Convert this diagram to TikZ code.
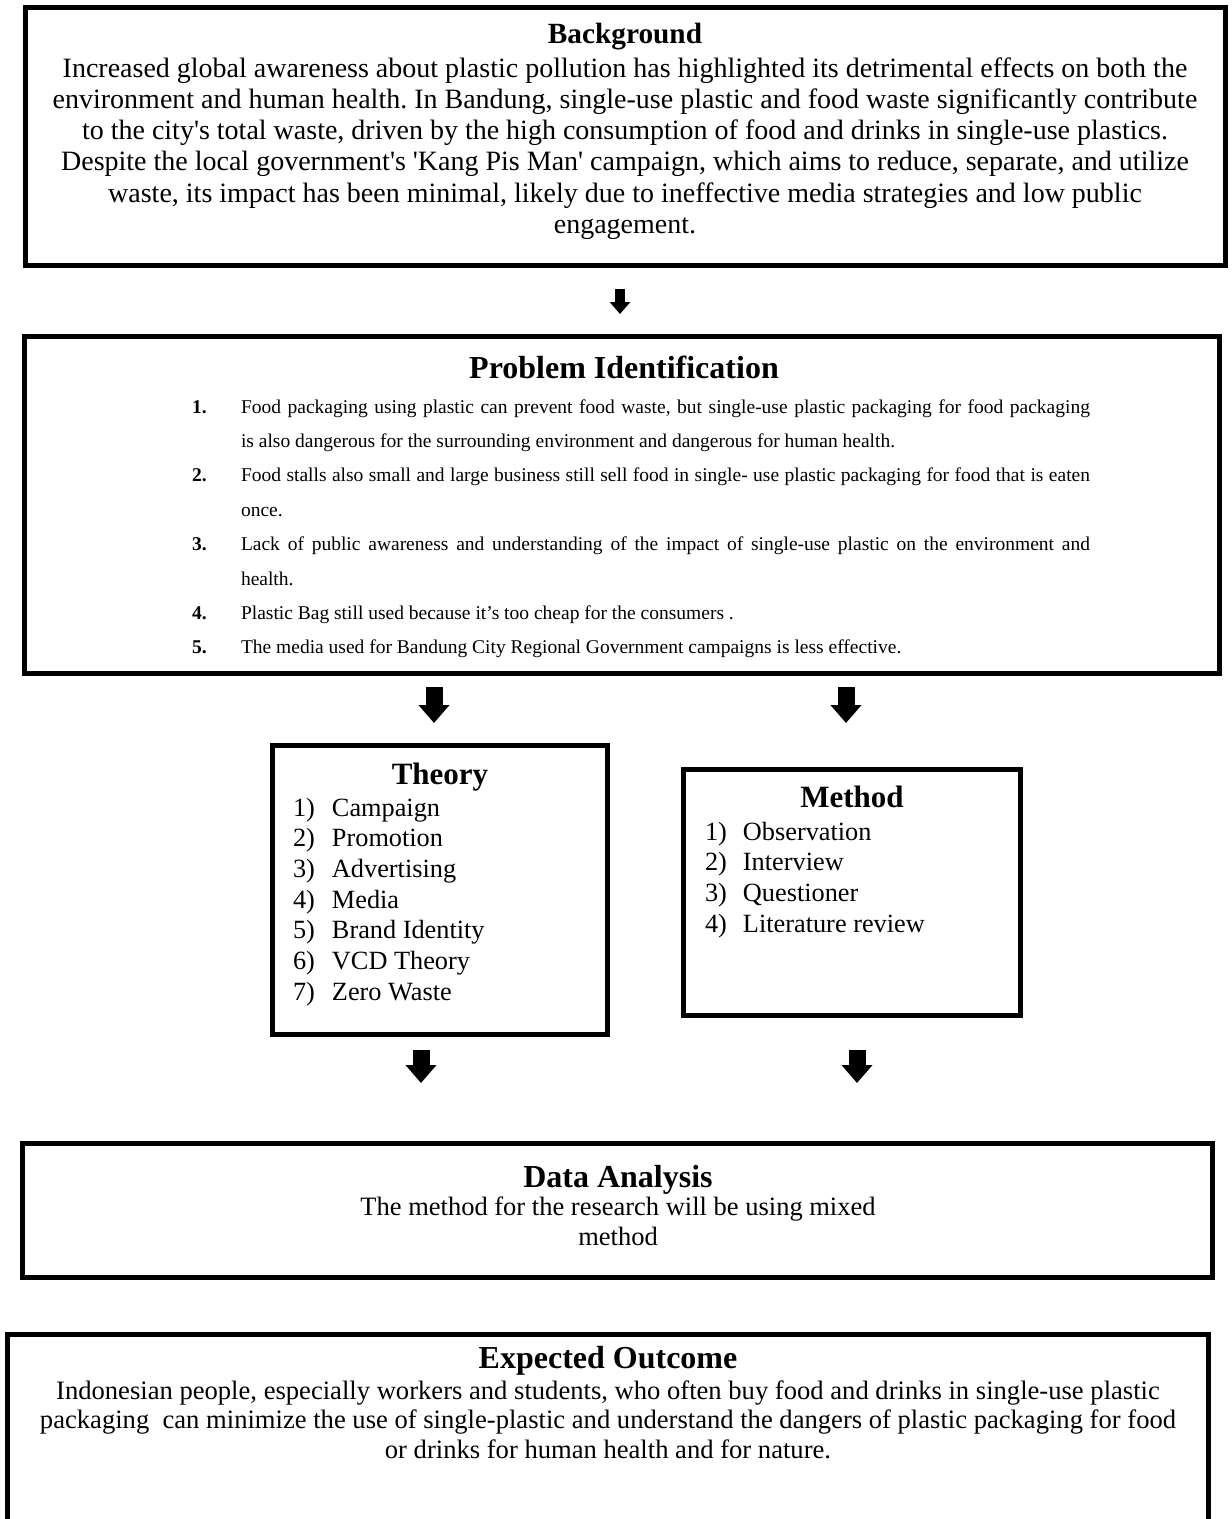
\documentclass[tikz,border=0pt]{standalone}
\usepackage{fontspec}
\setmainfont{Liberation Serif}
\newfontfamily\plainq{Liberation Serif}
\usetikzlibrary{arrows.meta}
\newcommand{\sq}{{\plainq'}}
\newcommand{\jl}[1]{\makebox[849pt][s]{#1}}
\frenchspacing
\begin{document}
\begin{tikzpicture}[x=1pt,y=-1pt,
  frame/.style={draw=black, line width=5pt, inner sep=0pt, outer sep=0pt, fill=none},
  txt/.style={inner sep=0pt, outer sep=0pt, anchor=base},
  lst/.style={inner sep=0pt, outer sep=0pt, anchor=base west},
  bigtitle/.style={font=\fontsize{31}{36}\selectfont\bfseries},
  widetitle/.style={font=\fontsize{32}{36}\selectfont\bfseries},
  bigarrow/.style={draw=black, line width=17pt, -{Triangle[width=30pt,length=18pt]}},
  smallarrow/.style={draw=black, line width=10pt, -{Triangle[width=20pt,length=12pt]}}]
\useasboundingbox (0,0) rectangle (1232,1519);

% frames
\node[frame, minimum width=1200pt, minimum height=258pt] (bgbox) at (625.5,136.5) {};
\node[frame, minimum width=1195pt, minimum height=337pt] (pibox) at (622,505) {};
\node[frame, minimum width=335pt, minimum height=289pt] (thbox) at (440,890) {};
\node[frame, minimum width=337pt, minimum height=246pt] (mebox) at (852,892.5) {};
\node[frame, minimum width=1190pt, minimum height=134pt] (dabox) at (617.5,1210.5) {};
\node[frame, minimum width=1201pt, minimum height=226pt] (exbox) at (608,1447) {};

% Background
\node[txt, font=\fontsize{29.3}{33}\selectfont\bfseries] (bgtitle) at (625,43) {Background};
\node[txt, font=\fontsize{28}{31.3}\selectfont] (bgtext) at (625,77) {%
\begin{tabular}[t]{@{}c@{}}
Increased global awareness about plastic pollution has highlighted its detrimental effects on both the\\
environment and human health. In Bandung, single-use plastic and food waste significantly contribute\\
to the city\sq s total waste, driven by the high consumption of food and drinks in single-use plastics.\\
Despite the local government\sq s \sq Kang Pis Man\sq{} campaign, which aims to reduce, separate, and utilize\\
waste, its impact has been minimal, likely due to ineffective media strategies and low public\\
engagement.
\end{tabular}};

% Problem Identification
\node[txt, widetitle] (pititle) at (624,378) {Problem Identification};
\node[lst, font=\fontsize{19.5}{34.4}\selectfont] (pilist) at (192,413) {%
\begin{tabular}[t]{@{}l@{}l@{}}
\makebox[49pt][l]{\bfseries 1.} & \jl{Food packaging using plastic can prevent food waste, but single-use plastic packaging for food packaging}\\
 & is also dangerous for the surrounding environment and dangerous for human health.\\
\makebox[49pt][l]{\bfseries 2.} & \jl{Food stalls also small and large business still sell food in single- use plastic packaging for food that is eaten}\\
 & once.\\
\makebox[49pt][l]{\bfseries 3.} & \jl{Lack of public awareness and understanding of the impact of single-use plastic on the environment and}\\
 & health.\\
\makebox[49pt][l]{\bfseries 4.} & Plastic Bag still used because it’s too cheap for the consumers .\\
\makebox[49pt][l]{\bfseries 5.} & The media used for Bandung City Regional Government campaigns is less effective.
\end{tabular}};

% Theory
\node[txt, bigtitle] (thtitle) at (440,784) {Theory};
\node[lst, font=\fontsize{26.3}{30.7}\selectfont] (thlist) at (293,816) {%
\begin{tabular}[t]{@{}l@{}l@{}}
\makebox[39pt][l]{1)} & Campaign\\
\makebox[39pt][l]{2)} & Promotion\\
\makebox[39pt][l]{3)} & Advertising\\
\makebox[39pt][l]{4)} & Media\\
\makebox[39pt][l]{5)} & Brand Identity\\
\makebox[39pt][l]{6)} & VCD Theory\\
\makebox[39pt][l]{7)} & Zero Waste
\end{tabular}};

% Method
\node[txt, bigtitle] (metitle) at (852,807) {Method};
\node[lst, font=\fontsize{26.3}{30.7}\selectfont] (melist) at (705,840) {%
\begin{tabular}[t]{@{}l@{}l@{}}
\makebox[38pt][l]{1)} & Observation\\
\makebox[38pt][l]{2)} & Interview\\
\makebox[38pt][l]{3)} & Questioner\\
\makebox[38pt][l]{4)} & Literature review
\end{tabular}};

% Data Analysis
\node[txt, widetitle] (datitle) at (618,1187) {Data Analysis};
\node[txt, font=\fontsize{26.5}{30}\selectfont] (datext) at (618,1215) {%
\begin{tabular}[t]{@{}c@{}}
The method for the research will be using mixed\\
method
\end{tabular}};

% Expected Outcome
\node[txt, widetitle] (extitle) at (608,1368) {Expected Outcome};
\node[txt, font=\fontsize{26.6}{29.8}\selectfont] (extext) at (608,1399) {%
\begin{tabular}[t]{@{}c@{}}
Indonesian people, especially workers and students, who often buy food and drinks in single-use plastic\\
packaging\ \ can minimize the use of single-plastic and understand the dangers of plastic packaging for food\\
or drinks for human health and for nature.
\end{tabular}};

% arrows
\coordinate (a1s) at (620,289); \coordinate (a1e) at (620,314);
\coordinate (a2s) at (434,687); \coordinate (a2e) at (434,723);
\coordinate (a3s) at (846,687); \coordinate (a3e) at (846,723);
\coordinate (a4s) at (421,1050); \coordinate (a4e) at (421,1083);
\coordinate (a5s) at (857,1050); \coordinate (a5e) at (857,1083);
\draw[smallarrow] (a1s) -- (a1e);
\draw[bigarrow] (a2s) -- (a2e);
\draw[bigarrow] (a3s) -- (a3e);
\draw[bigarrow] (a4s) -- (a4e);
\draw[bigarrow] (a5s) -- (a5e);
\end{tikzpicture}
\end{document}
